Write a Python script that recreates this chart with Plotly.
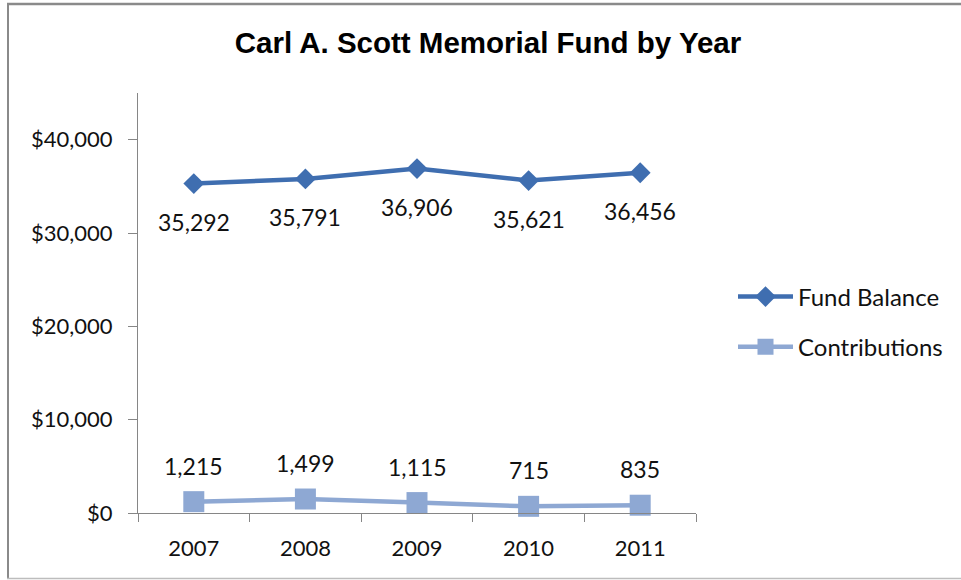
import plotly.graph_objects as go

years = ["2007", "2008", "2009", "2010", "2011"]
fund_balance = [35292, 35791, 36906, 35621, 36456]
contributions = [1215, 1499, 1115, 715, 835]
title_text = "Carl A. Scott Memorial Fund by Year"

FUND_COLOR = "#3F6EB0"
CONTRIB_COLOR = "#8EA8D3"
AXIS_COLOR = "#868686"
FONT = "Lato, 'Open Sans', sans-serif"

# plot area in pixels
L, R, T, B = 138, 696, 93, 513
W, H = 961, 580

fig = go.Figure()
fig.add_trace(go.Scatter(
    x=years, y=fund_balance, name="Fund Balance", mode="lines+markers",
    line=dict(color=FUND_COLOR, width=4.5),
    marker=dict(symbol="diamond", size=16, color=FUND_COLOR),
    legendgroup="a", cliponaxis=False,
))
fig.add_trace(go.Scatter(
    x=years, y=contributions, name="Contributions", mode="lines+markers",
    line=dict(color=CONTRIB_COLOR, width=4.5),
    marker=dict(symbol="square", size=21, color=CONTRIB_COLOR),
    legendgroup="b", cliponaxis=False,
))

annotations = []
for i, v in enumerate(fund_balance):
    annotations.append(dict(x=i, y=v, xref="x", yref="y", text=f"{v:,}",
                            showarrow=False, yshift=-38, yanchor="middle",
                            font=dict(family=FONT, size=23, color="#111111")))
for i, v in enumerate(contributions):
    annotations.append(dict(x=i, y=v, xref="x", yref="y", text=f"{v:,}",
                            showarrow=False, yshift=36, yanchor="middle",
                            font=dict(family=FONT, size=23, color="#111111")))

def px_x(x):
    return (x - L) / (R - L)

def px_y(y):
    return (B - y) / (B - T)

shapes = [
    dict(type="line", xref="paper", yref="paper", x0=px_x(8), x1=px_x(8),
         y0=px_y(4), y1=px_y(579), line=dict(color="#8A8A8A", width=2)),
    dict(type="line", xref="paper", yref="paper", x0=px_x(7), x1=px_x(965),
         y0=px_y(4), y1=px_y(4), line=dict(color="#8A8A8A", width=2.5)),
    dict(type="line", xref="paper", yref="paper", x0=px_x(7), x1=px_x(965),
         y0=px_y(578.5), y1=px_y(578.5), line=dict(color="#BDBDBD", width=1.5)),
]

fig.update_layout(
    width=W, height=H,
    margin=dict(l=L, r=W - R, t=T, b=H - B),
    paper_bgcolor="white", plot_bgcolor="white",
    title=dict(text=f"<b>{title_text}</b>", x=488 / W, y=1 - 43 / H,
               xref="container", yref="container", xanchor="center", yanchor="middle",
               font=dict(family="'Liberation Sans', Arial, sans-serif", size=29.5, color="#000000")),
    font=dict(family=FONT, size=22, color="#000000"),
    showlegend=True,
    legend=dict(x=px_x(733), y=px_y(322), xanchor="left", yanchor="middle",
                font=dict(family=FONT, size=24, color="#111111"),
                itemwidth=55,
                tracegroupgap=16, bgcolor="rgba(0,0,0,0)"),
    xaxis=dict(type="category", range=[-0.5, 4.5], showline=True, linecolor=AXIS_COLOR,
               linewidth=1, ticks="outside", tickson="boundaries", ticklen=8,
               tickcolor=AXIS_COLOR, showgrid=False, zeroline=False,
               ticklabelstandoff=16, tickfont=dict(family=FONT, size=22, color="#111111")),
    yaxis=dict(range=[0, 45000], dtick=10000, tick0=0, tickprefix="$", tickformat=",d",
               showline=True, linecolor=AXIS_COLOR, linewidth=1, ticks="outside",
               ticklen=9, tickcolor=AXIS_COLOR, showgrid=False, zeroline=False,
               ticklabelstandoff=11, tickfont=dict(family=FONT, size=22, color="#111111")),
    annotations=annotations,
    shapes=shapes,
)

fig.write_html("out.html", config={"displayModeBar": False},
               post_script="document.body.style.margin='0';")
